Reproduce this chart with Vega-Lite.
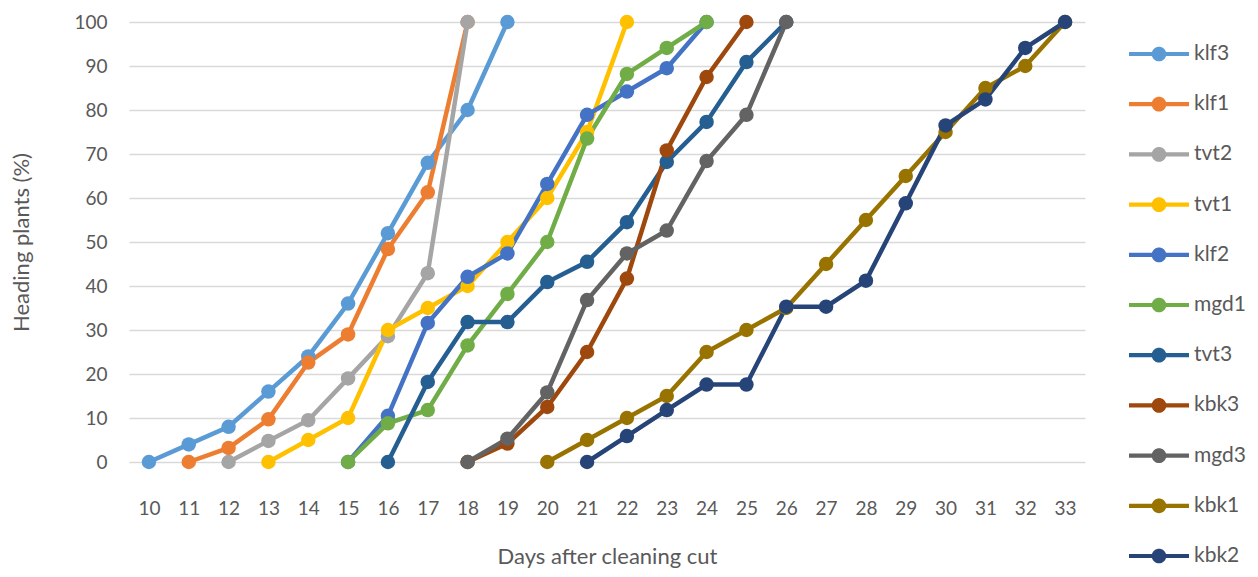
{
  "$schema": "https://vega.github.io/schema/vega-lite/v6.json",
  "autosize": {"type": "none"},
  "width": 956,
  "height": 440,
  "padding": {"left": 129, "top": 22, "right": 173, "bottom": 115},
  "background": "white",
  "config": {
    "view": {"stroke": null},
    "font": "Lato",
    "axis": {"labelColor": "#595959", "titleColor": "#595959", "labelFont": "Lato", "titleFont": "Lato", "titleFontWeight": "normal"}
  },
  "data": {"values": [
    {"day":10,"line":"klf3","pct":0},{"day":11,"line":"klf3","pct":4},{"day":12,"line":"klf3","pct":8},{"day":13,"line":"klf3","pct":16},{"day":14,"line":"klf3","pct":24},{"day":15,"line":"klf3","pct":36},{"day":16,"line":"klf3","pct":52},{"day":17,"line":"klf3","pct":68},{"day":18,"line":"klf3","pct":80},{"day":19,"line":"klf3","pct":100},
    {"day":11,"line":"klf1","pct":0},{"day":12,"line":"klf1","pct":3.2},{"day":13,"line":"klf1","pct":9.7},{"day":14,"line":"klf1","pct":22.6},{"day":15,"line":"klf1","pct":29},{"day":16,"line":"klf1","pct":48.4},{"day":17,"line":"klf1","pct":61.3},{"day":18,"line":"klf1","pct":100},
    {"day":12,"line":"tvt2","pct":0},{"day":13,"line":"tvt2","pct":4.8},{"day":14,"line":"tvt2","pct":9.5},{"day":15,"line":"tvt2","pct":19},{"day":16,"line":"tvt2","pct":28.6},{"day":17,"line":"tvt2","pct":42.9},{"day":18,"line":"tvt2","pct":100},
    {"day":13,"line":"tvt1","pct":0},{"day":14,"line":"tvt1","pct":5},{"day":15,"line":"tvt1","pct":10},{"day":16,"line":"tvt1","pct":30},{"day":17,"line":"tvt1","pct":35},{"day":18,"line":"tvt1","pct":40},{"day":19,"line":"tvt1","pct":50},{"day":20,"line":"tvt1","pct":60},{"day":21,"line":"tvt1","pct":75},{"day":22,"line":"tvt1","pct":100},
    {"day":15,"line":"klf2","pct":0},{"day":16,"line":"klf2","pct":10.5},{"day":17,"line":"klf2","pct":31.6},{"day":18,"line":"klf2","pct":42.1},{"day":19,"line":"klf2","pct":47.4},{"day":20,"line":"klf2","pct":63.2},{"day":21,"line":"klf2","pct":78.9},{"day":22,"line":"klf2","pct":84.2},{"day":23,"line":"klf2","pct":89.5},{"day":24,"line":"klf2","pct":100},
    {"day":15,"line":"mgd1","pct":0},{"day":16,"line":"mgd1","pct":8.8},{"day":17,"line":"mgd1","pct":11.8},{"day":18,"line":"mgd1","pct":26.5},{"day":19,"line":"mgd1","pct":38.2},{"day":20,"line":"mgd1","pct":50},{"day":21,"line":"mgd1","pct":73.5},{"day":22,"line":"mgd1","pct":88.2},{"day":23,"line":"mgd1","pct":94.1},{"day":24,"line":"mgd1","pct":100},
    {"day":16,"line":"tvt3","pct":0},{"day":17,"line":"tvt3","pct":18.2},{"day":18,"line":"tvt3","pct":31.8},{"day":19,"line":"tvt3","pct":31.8},{"day":20,"line":"tvt3","pct":40.9},{"day":21,"line":"tvt3","pct":45.5},{"day":22,"line":"tvt3","pct":54.5},{"day":23,"line":"tvt3","pct":68.2},{"day":24,"line":"tvt3","pct":77.3},{"day":25,"line":"tvt3","pct":90.9},{"day":26,"line":"tvt3","pct":100},
    {"day":18,"line":"kbk3","pct":0},{"day":19,"line":"kbk3","pct":4.2},{"day":20,"line":"kbk3","pct":12.5},{"day":21,"line":"kbk3","pct":25},{"day":22,"line":"kbk3","pct":41.7},{"day":23,"line":"kbk3","pct":70.8},{"day":24,"line":"kbk3","pct":87.5},{"day":25,"line":"kbk3","pct":100},
    {"day":18,"line":"mgd3","pct":0},{"day":19,"line":"mgd3","pct":5.3},{"day":20,"line":"mgd3","pct":15.8},{"day":21,"line":"mgd3","pct":36.8},{"day":22,"line":"mgd3","pct":47.4},{"day":23,"line":"mgd3","pct":52.6},{"day":24,"line":"mgd3","pct":68.4},{"day":25,"line":"mgd3","pct":78.9},{"day":26,"line":"mgd3","pct":100},
    {"day":20,"line":"kbk1","pct":0},{"day":21,"line":"kbk1","pct":5},{"day":22,"line":"kbk1","pct":10},{"day":23,"line":"kbk1","pct":15},{"day":24,"line":"kbk1","pct":25},{"day":25,"line":"kbk1","pct":30},{"day":26,"line":"kbk1","pct":35},{"day":27,"line":"kbk1","pct":45},{"day":28,"line":"kbk1","pct":55},{"day":29,"line":"kbk1","pct":65},{"day":30,"line":"kbk1","pct":75},{"day":31,"line":"kbk1","pct":85},{"day":32,"line":"kbk1","pct":90},{"day":33,"line":"kbk1","pct":100},
    {"day":21,"line":"kbk2","pct":0},{"day":22,"line":"kbk2","pct":5.9},{"day":23,"line":"kbk2","pct":11.8},{"day":24,"line":"kbk2","pct":17.6},{"day":25,"line":"kbk2","pct":17.6},{"day":26,"line":"kbk2","pct":35.3},{"day":27,"line":"kbk2","pct":35.3},{"day":28,"line":"kbk2","pct":41.2},{"day":29,"line":"kbk2","pct":58.8},{"day":30,"line":"kbk2","pct":76.5},{"day":31,"line":"kbk2","pct":82.4},{"day":32,"line":"kbk2","pct":94.1},{"day":33,"line":"kbk2","pct":100}
  ]},
  "mark": {"type": "line", "strokeWidth": 4.5, "point": {"filled": true, "size": 210, "opacity": 1}},
  "encoding": {
    "x": {
      "field": "day", "type": "ordinal",
      "scale": {"domain": [10,11,12,13,14,15,16,17,18,19,20,21,22,23,24,25,26,27,28,29,30,31,32,33], "padding": 0.5},
      "axis": {"labelAngle": 0, "labelFontSize": 19, "labelPadding": 37, "ticks": false, "domain": false, "grid": false, "title": "Days after cleaning cut", "titleFontSize": 22, "titlePadding": 28}
    },
    "y": {
      "field": "pct", "type": "quantitative",
      "scale": {"domain": [0, 100], "nice": false},
      "axis": {"values": [0,10,20,30,40,50,60,70,80,90,100], "labelFontSize": 19, "labelPadding": 22, "ticks": false, "domain": false, "gridColor": "#D9D9D9", "gridWidth": 1.5, "title": "Heading plants (%)", "titleFontSize": 22, "titlePadding": 40}
    },
    "color": {
      "field": "line", "type": "nominal",
      "scale": {
        "domain": ["klf3","klf1","tvt2","tvt1","klf2","mgd1","tvt3","kbk3","mgd3","kbk1","kbk2"],
        "range": ["#5B9BD5","#ED7D31","#A5A5A5","#FFC000","#4472C4","#70AD47","#255E91","#9E480E","#636363","#997300","#264478"]
      },
      "legend": {
        "orient": "none", "legendX": 1000, "legendY": 2, "title": null,
        "symbolType": "M-1,-0.07H-0.235A0.245,0.245 0 0 1 0.235,-0.07H1V0.07H0.235A0.245,0.245 0 0 1 -0.235,0.07H-1Z",
        "symbolSize": 3600, "symbolStrokeWidth": 0, "symbolOpacity": 1,
        "labelFontSize": 21, "labelColor": "#595959", "labelFont": "Lato", "labelOffset": 5,
        "rowPadding": 10.2, "symbolLimit": 20
      }
    }
  }
}
